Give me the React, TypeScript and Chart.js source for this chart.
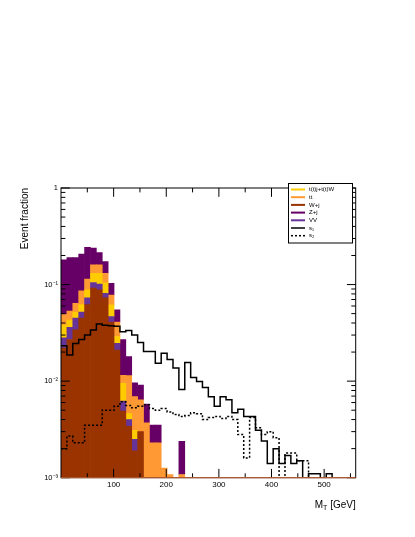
import React, { useEffect, useRef } from "react";
import { Chart, registerables } from "chart.js";

Chart.register(...registerables);

// ---------- axis definitions ----------
const N_BINS = 50;
const BIN_WIDTH = 11.2; // GeV
const X_MIN = 0;
const X_MAX = 560;
const Y_MIN = 1e-3;
const Y_MAX = 1;
const X_TICKS = [100, 200, 300, 400, 500];
const X_MINOR_TICKS = [50, 150, 250, 350, 450, 550];
const Y_TICKS = [1e-3, 1e-2, 1e-1, 1];
const Y_TICK_LABELS = ["10\u207B\u00B3", "10\u207B\u00B2", "10\u207B\u00B9", "1"];

// ---------- background components (event fraction per bin) ----------
const W_JETS = [
  0.022, 0.027, 0.034, 0.045, 0.062, 0.092, 0.088, 0.073, 0.041, 0.021,
  0.0049, 0.0034, 0.0019, 0.003, 0, 0, 0, 0, 0, 0,
  0, 0, 0, 0, 0, 0, 0, 0, 0, 0,
  0, 0, 0, 0, 0, 0, 0, 0, 0, 0,
  0, 0, 0, 0, 0, 0, 0, 0, 0, 0,
];
const VV = [
  0.006, 0.009, 0.011, 0.007, 0.011, 0.013, 0.013, 0.008, 0.0055, 0.0037,
  0.0013, 0.0006, 0.0006, 0, 0, 0, 0, 0, 0, 0,
  0, 0, 0, 0, 0, 0, 0, 0, 0, 0,
  0, 0, 0, 0, 0, 0, 0, 0, 0, 0,
  0, 0, 0, 0, 0, 0, 0, 0, 0, 0,
];
const SINGLE_TOP = [
  0.01, 0.007, 0.007, 0.01, 0.015, 0.026, 0.03, 0.023, 0.015, 0.0043,
  0.0033, 0.0006, 0.0006, 0, 0, 0, 0, 0, 0, 0,
  0, 0, 0, 0, 0, 0, 0, 0, 0, 0,
  0, 0, 0, 0, 0, 0, 0, 0, 0, 0,
  0, 0, 0, 0, 0, 0, 0, 0, 0, 0,
];
const TTBAR = [
  0.011, 0.01, 0.012, 0.024, 0.026, 0.029, 0.029, 0.027, 0.0165, 0.012,
  0.002, 0.0068, 0.0038, 0.0034, 0.0037, 0.0023, 0.0023, 0.00126, 0.00108, 0,
  0.00108, 0, 0, 0, 0, 0, 0, 0, 0, 0,
  0, 0, 0, 0, 0, 0, 0, 0, 0, 0,
  0, 0, 0, 0, 0, 0, 0, 0, 0, 0,
];
const Z_JETS = [
  0.131, 0.137, 0.126, 0.121, 0.129, 0.079, 0.054, 0.042, 0.025, 0.0137,
  0.0155, 0.0066, 0.0027, 0.0027, 0.0021, 0.0012, 0.0012, 0, 0, 0,
  0.0013, 0, 0, 0, 0, 0, 0, 0, 0, 0,
  0, 0, 0, 0, 0, 0, 0, 0, 0, 0,
  0, 0, 0, 0, 0, 0, 0, 0, 0, 0,
];

// ---------- signals ----------
const SIGNAL_1 = [
  0.0232, 0.0187, 0.0245, 0.027, 0.03, 0.0339, 0.039, 0.038, 0.0375, 0.037,
  0.0324, 0.0334, 0.0301, 0.0251, 0.0203, 0.0203, 0.0153, 0.0195, 0.0168, 0.0137,
  0.0082, 0.0156, 0.0109, 0.0099, 0.0086, 0.0069, 0.0055, 0.0069, 0.0064, 0.0047,
  0.0051, 0.0043, 0.0043, 0.0031, 0.0024, 0.0014, 0.002, 0.0014, 0.0017, 0.0014,
  0.0015, 0, 0.0011, 0.0011, 0, 0.0011, 0, 0, 0, 0,
];
const SIGNAL_2 = [
  0.002, 0.0027, 0.0023, 0.0023, 0.0035, 0.0035, 0.0035, 0.005, 0.005, 0.0055,
  0.0061, 0.0056, 0.0053, 0.0055, 0.0057, 0.0052, 0.005, 0.0052, 0.0048, 0.0045,
  0.0043, 0.0044, 0.0047, 0.0046, 0.004, 0.0042, 0.0043, 0.0041, 0.0043, 0.004,
  0.0028, 0.0016, 0.0042, 0.0033, 0.0028, 0.003, 0.0026, 0, 0.0018, 0.0018,
  0.0015, 0.0015, 0, 0, 0, 0, 0, 0, 0, 0,
];

// stacking order, bottom -> top
const STACK_LABELS = ["W+j", "VV", "t(t)j+t(t)W", "tt", "Z+j"];
const STACK_VALUES = [W_JETS, VV, SINGLE_TOP, TTBAR, Z_JETS];
const STACK_COLORS = ["#993300", "#663399", "#ffcc00", "#ff9933", "#660066"];

const SIGNAL_LABELS = ["s\u2081", "s\u2082"];
const SIGNAL_VALUES = [SIGNAL_1, SIGNAL_2];
const SIGNAL_DASH = [[], [2, 2]];

// legend order as in the reference
const LEGEND_ORDER = ["t(t)j+t(t)W", "tt", "W+j", "Z+j", "VV", "s\u2081", "s\u2082"];

const FONT = "'Liberation Sans', Arial, Helvetica, sans-serif";
const LOG_FLOOR = 1e-7; // empty bins drawn below the visible axis

function buildDatasets() {
  const cum = new Array(N_BINS).fill(0);
  const bars: any[] = [];
  STACK_VALUES.forEach((vals, j) => {
    const data: any[] = [];
    for (let k = 0; k < N_BINS; k++) {
      const lo = cum[k];
      const hi = lo + vals[k];
      cum[k] = hi;
      if (vals[k] > 0) {
        data.push({ x: (k + 0.5) * BIN_WIDTH, y: [Math.max(lo, Y_MIN), hi] });
      }
    }
    bars.push({
      type: "bar",
      label: STACK_LABELS[j],
      data,
      backgroundColor: STACK_COLORS[j],
      borderWidth: 0,
      barPercentage: 1,
      categoryPercentage: 1,
      grouped: false,
      order: 1,
    });
  });
  const lines = SIGNAL_VALUES.map((vals, j) => {
    const data: any[] = vals.map((v, k) => ({ x: k * BIN_WIDTH, y: v > 0 ? v : LOG_FLOOR }));
    const last = vals[N_BINS - 1];
    data.push({ x: N_BINS * BIN_WIDTH, y: last > 0 ? last : LOG_FLOOR });
    return {
      type: "line",
      label: SIGNAL_LABELS[j],
      data,
      borderColor: "#000000",
      borderWidth: 1.5,
      borderDash: SIGNAL_DASH[j],
      stepped: "before",
      pointRadius: 0,
      fill: false,
      tension: 0,
      order: 0,
    };
  });
  return [...lines, ...bars];
}

const framePlugin = {
  id: "rootFrame",
  afterDatasetsDraw(chart: any) {
    const { ctx, chartArea } = chart;
    const { left, right, top, bottom } = chartArea;
    const xs = chart.scales.x;
    const ys = chart.scales.y;
    ctx.save();
    ctx.strokeStyle = "#000";
    ctx.lineWidth = 1;
    ctx.beginPath();
    const yMajor = 8.8;
    const yMinor = 4.4;
    // y ticks (left and right)
    for (let d = -3; d <= 0; d++) {
      for (let m = 1; m <= 9; m++) {
        const v = m * Math.pow(10, d);
        if (v > Y_MAX * 1.0001) break;
        const py = ys.getPixelForValue(v);
        const len = m === 1 ? yMajor : yMinor;
        ctx.moveTo(left, py);
        ctx.lineTo(left + len, py);
        ctx.moveTo(right, py);
        ctx.lineTo(right - len, py);
      }
    }
    // x ticks (bottom and top)
    const drawX = (vals: number[], len: number) => {
      vals.forEach((v) => {
        const px = xs.getPixelForValue(v);
        ctx.moveTo(px, bottom);
        ctx.lineTo(px, bottom - len);
        ctx.moveTo(px, top);
        ctx.lineTo(px, top + len);
      });
    };
    drawX(X_TICKS, 8.8);
    drawX(X_MINOR_TICKS, 4.4);
    ctx.stroke();
    ctx.strokeRect(left, top, right - left, bottom - top);
    // histogram baseline along the bottom
    ctx.strokeStyle = "#cc6633";
    ctx.beginPath();
    ctx.moveTo(left, bottom);
    ctx.lineTo(right, bottom);
    ctx.stroke();

    // x-axis title with subscript
    const big = `10px ${FONT}`;
    const small = `7px ${FONT}`;
    ctx.fillStyle = "#000";
    ctx.textBaseline = "alphabetic";
    ctx.font = big;
    const wM = ctx.measureText("M").width;
    const wRest = ctx.measureText(" [GeV]").width;
    ctx.font = small;
    const wT = ctx.measureText("T").width;
    const baseY = 507.5;
    let x0 = right - (wM + wT + wRest);
    ctx.font = big;
    ctx.textAlign = "left";
    ctx.fillText("M", x0, baseY);
    ctx.font = small;
    ctx.fillText("T", x0 + wM, baseY + 2.5);
    ctx.font = big;
    ctx.fillText(" [GeV]", x0 + wM + wT, baseY);
    ctx.restore();
  },
};

const legendPlugin = {
  id: "rootLegend",
  afterDraw(chart: any) {
    const { ctx } = chart;
    const box = { x: 288, y: 183, w: 64, h: 59.5 };
    ctx.save();
    ctx.fillStyle = "#ffffff";
    ctx.fillRect(box.x, box.y, box.w, box.h);
    ctx.strokeStyle = "#000";
    ctx.lineWidth = 1;
    ctx.strokeRect(box.x + 0.5, box.y + 0.5, box.w, box.h);
    const datasets = chart.data.datasets;
    const step = 7.7;
    LEGEND_ORDER.forEach((label, i) => {
      const ds = datasets.find((d: any) => d.label === label);
      if (!ds) return;
      const cy = box.y + 6.5 + i * step;
      ctx.beginPath();
      if (ds.type === "line") {
        ctx.strokeStyle = ds.borderColor;
        ctx.lineWidth = 1.5;
        ctx.setLineDash(ds.borderDash || []);
      } else {
        ctx.strokeStyle = ds.backgroundColor;
        ctx.lineWidth = 2;
        ctx.setLineDash([]);
      }
      ctx.moveTo(box.x + 3, cy);
      ctx.lineTo(box.x + 17, cy);
      ctx.stroke();
      ctx.setLineDash([]);
      ctx.fillStyle = "#000";
      ctx.font = `6px ${FONT}`;
      ctx.textAlign = "left";
      ctx.textBaseline = "middle";
      ctx.fillText(label, box.x + 21, cy);
    });
    ctx.restore();
  },
};

export default function App() {
  const canvasRef = useRef<HTMLCanvasElement | null>(null);

  useEffect(() => {
    const canvas = canvasRef.current;
    if (!canvas) return;
    const chart = new Chart(canvas, {
      type: "bar",
      data: { datasets: buildDatasets() as any },
      options: {
        animation: false,
        responsive: false,
        devicePixelRatio: 1,
        events: [],
        layout: { padding: { top: 188, right: 59.3, bottom: 0, left: 0 } },
        plugins: {
          legend: { display: false },
          tooltip: { enabled: false },
          title: { display: false },
        },
        scales: {
          x: {
            type: "linear",
            min: X_MIN,
            max: X_MAX,
            offset: false,
            grid: { display: false, drawTicks: false },
            border: { display: false },
            ticks: {
              autoSkip: false,
              maxRotation: 0,
              padding: 2,
              color: "#000",
              font: { family: FONT, size: 8 },
              callback: (v: any) => String(v),
            },
            afterBuildTicks: (s: any) => {
              s.ticks = X_TICKS.map((v) => ({ value: v }));
            },
            afterFit: (s: any) => {
              s.height = 59.3;
            },
          },
          y: {
            type: "logarithmic",
            min: Y_MIN,
            max: Y_MAX,
            grid: { display: false, drawTicks: false },
            border: { display: false },
            ticks: {
              autoSkip: false,
              padding: 3,
              color: "#000",
              font: { family: FONT, size: 7.5 },
              callback: (v: any) => {
                const i = Y_TICKS.findIndex((t) => Math.abs(t - Number(v)) < t * 1e-6);
                return i >= 0 ? Y_TICK_LABELS[i] : "";
              },
            },
            afterBuildTicks: (s: any) => {
              s.ticks = Y_TICKS.map((v) => ({ value: v }));
            },
            afterFit: (s: any) => {
              s.width = 61;
            },
            title: {
              display: true,
              text: "Event fraction",
              align: "end",
              color: "#000",
              font: { family: FONT, size: 10 },
              padding: { top: 19, bottom: 0 },
            },
          },
        },
      } as any,
      plugins: [framePlugin, legendPlugin],
    });
    return () => chart.destroy();
  }, []);

  return (
    <div style={{ position: "absolute", left: 0, top: 0, width: 415, height: 537, background: "#fff" }}>
      <canvas ref={canvasRef} width={415} height={537} style={{ display: "block" }} />
    </div>
  );
}
